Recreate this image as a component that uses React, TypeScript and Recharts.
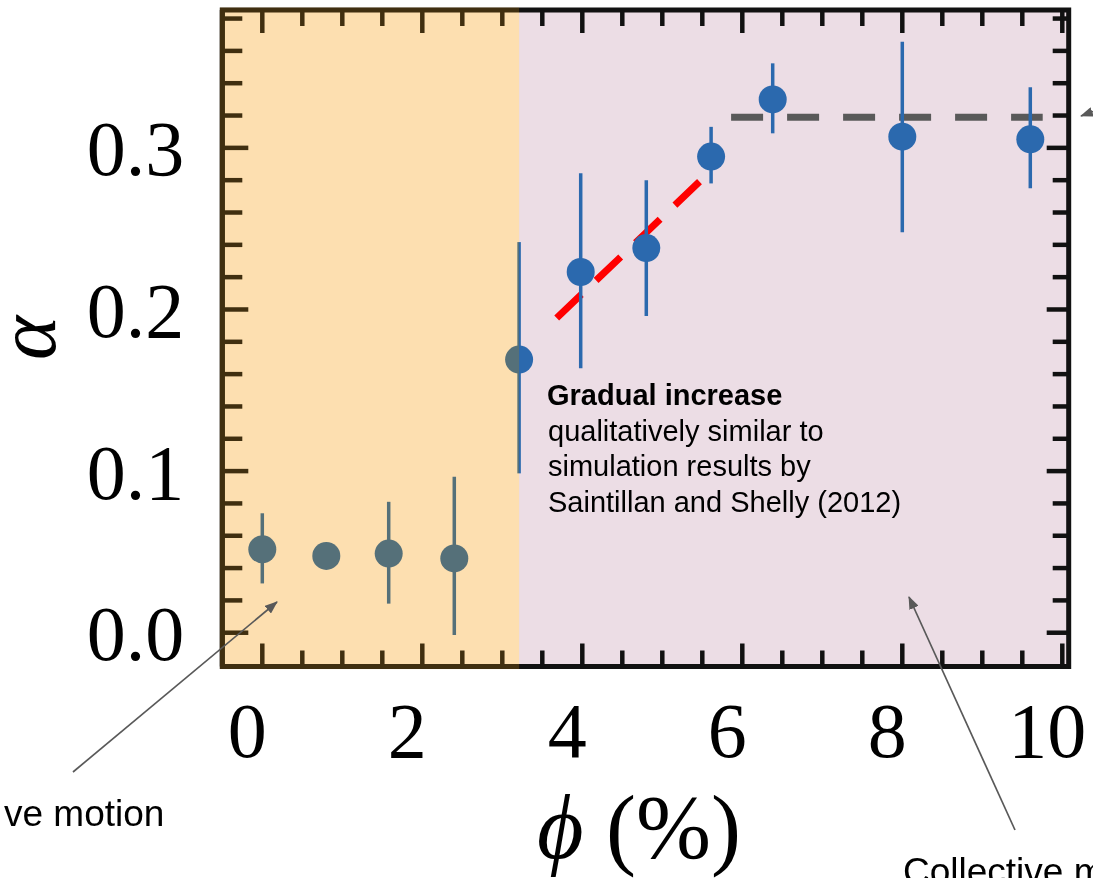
import React from 'react';
import {
  ComposedChart,
  Scatter,
  XAxis,
  YAxis,
  ErrorBar,
  ReferenceArea,
  ReferenceLine,
} from 'recharts';

// ---------- data ----------
const phiPercent = [0, 0.8, 1.58, 2.4, 3.21, 3.98, 4.8, 5.61, 6.38, 8.0, 9.6];
const alphaValue = [0.0516, 0.0475, 0.049, 0.046, 0.169, 0.2232, 0.238, 0.2946, 0.33, 0.3069, 0.3053];
const alphaErrLow = [0.0211, 0, 0.031, 0.0474, 0.0704, 0.0596, 0.042, 0.0166, 0.021, 0.0591, 0.0303];
const alphaErrHigh = [0.0223, 0, 0.032, 0.0505, 0.0727, 0.0611, 0.042, 0.0184, 0.0223, 0.0588, 0.0322];

const riseFit = [
  { x: 3.68, y: 0.1947 },
  { x: 5.49, y: 0.2803 },
];
const plateauFit = [
  { x: 5.86, y: 0.319 },
  { x: 9.755, y: 0.319 },
];

const orderedRange = [-0.53, 3.21];
const collectiveRange = [3.21, 10.08];

const xMajorTicks = [0, 2, 4, 6, 8, 10];
const xMinorTicks = [0.5, 1, 1.5, 2.5, 3, 3.5, 4.5, 5, 5.5, 6.5, 7, 7.5, 8.5, 9, 9.5];
const yMajorTicks = [0, 0.1, 0.2, 0.3];
const yMinorTicks = [0.02, 0.04, 0.06, 0.08, 0.12, 0.14, 0.16, 0.18, 0.22, 0.24, 0.26, 0.28, 0.32, 0.34, 0.36, 0.38];

const annotationLines = [
  'qualitatively similar to',
  'simulation results by',
  'Saintillan and Shelly (2012)',
];

// ---------- layout / style ----------
const W = 1093;
const H = 878;
const MARGIN = { top: 10, right: 24.3, bottom: 61.5, left: 72.3 };
const X_AXIS_H = 150;
const Y_AXIS_W = 150;
const PLOT_W = W - MARGIN.left - Y_AXIS_W - MARGIN.right;
const PLOT_H = H - MARGIN.top - MARGIN.bottom - X_AXIS_H;
const X_DOMAIN = [-0.5, 10.08];
const Y_DOMAIN = [-0.0209, 0.3853];
const FRAME = '#111';
const BLUE = '#2b69ae';
const SERIF = "'Liberation Serif', 'Times New Roman', serif";
const SANS = "'Liberation Sans', Arial, sans-serif";
const TICK_W = 4.5;

const xTicks = [...xMajorTicks, ...xMinorTicks].sort((a, b) => a - b);
const yTicks = [...yMajorTicks, ...yMinorTicks].sort((a, b) => a - b);
const isMajor = (arr: number[], v: number) => arr.some((m) => Math.abs(m - v) < 1e-9);

// bottom axis tick: inward tick at bottom, mirrored inward tick at top, label
const BottomTick = (p: any) => {
  const v = p.payload.value;
  const major = isMajor(xMajorTicks, v);
  const len = major ? 23 : 16;
  const top = p.y - PLOT_H;
  return (
    <g>
      <line x1={p.x} x2={p.x} y1={p.y} y2={p.y - len} stroke={FRAME} strokeWidth={TICK_W} />
      <line x1={p.x} x2={p.x} y1={top} y2={top + len} stroke={FRAME} strokeWidth={TICK_W} />
      {major && (
        <text x={p.x - 15} y={p.y + 90.5} textAnchor="middle" fontFamily={SERIF} fontSize={78} fill="#000">
          {String(v)}
        </text>
      )}
    </g>
  );
};

// left axis tick: inward tick at left, mirrored inward tick at right, label
const LeftTick = (p: any) => {
  const v = p.payload.value;
  const major = isMajor(yMajorTicks, v);
  const right = p.x + PLOT_W;
  return (
    <g>
      <line x1={p.x} x2={p.x + (major ? 26 : 20)} y1={p.y} y2={p.y} stroke={FRAME} strokeWidth={TICK_W} />
      <line x1={right} x2={right - (major ? 22 : 16)} y1={p.y} y2={p.y} stroke={FRAME} strokeWidth={TICK_W} />
      {major && (
        <text x={p.x - 38} y={p.y + 27.5} textAnchor="end" fontFamily={SERIF} fontSize={78} fill="#000">
          {v.toFixed(1)}
        </text>
      )}
    </g>
  );
};

const Marker = (p: any) => <circle cx={p.cx} cy={p.cy} r={14} fill={BLUE} />;

// translucent orange highlight laid over the "ordered" region (tints marks beneath it)
const OrangeVeil = (p: any) => (
  <g>
    <rect x={p.x} y={p.y} width={p.width} height={p.height} fill="#fdebd7" style={{ mixBlendMode: 'multiply' }} />
    <rect x={p.x} y={p.y} width={p.width} height={p.height} fill="#fdaf14" fillOpacity={0.2} />
  </g>
);

export default function App() {
  const rows = phiPercent.map((x, i) => ({
    x,
    y: alphaValue[i],
    err: [alphaErrLow[i], alphaErrHigh[i]],
  }));
  const axisLine = { stroke: FRAME, strokeWidth: 5 };

  return (
    <div style={{ position: 'absolute', left: 0, top: 0, width: W, height: H, background: '#fff', overflow: 'hidden' }}>
      <ComposedChart width={W} height={H} margin={MARGIN}>
        <ReferenceArea
          xAxisId="b"
          yAxisId="l"
          x1={collectiveRange[0]}
          x2={collectiveRange[1]}
          fill="#ecdde5"
          fillOpacity={1}
          stroke="none"
          ifOverflow="hidden"
        />
        <XAxis
          xAxisId="b"
          dataKey="x"
          type="number"
          orientation="bottom"
          domain={X_DOMAIN}
          allowDataOverflow
          ticks={xTicks}
          interval={0}
          height={X_AXIS_H}
          tickSize={0}
          tickMargin={0}
          tickLine={false}
          axisLine={axisLine}
          tick={BottomTick}
        />
        <YAxis
          yAxisId="l"
          dataKey="y"
          type="number"
          orientation="left"
          domain={Y_DOMAIN}
          allowDataOverflow
          ticks={yTicks}
          interval={0}
          width={Y_AXIS_W}
          tickSize={0}
          tickMargin={0}
          tickLine={false}
          axisLine={axisLine}
          tick={LeftTick}
        />
        <ReferenceArea
          xAxisId="b"
          yAxisId="l"
          x1={X_DOMAIN[0]}
          x2={X_DOMAIN[1]}
          y1={Y_DOMAIN[0]}
          y2={Y_DOMAIN[1]}
          fill="none"
          fillOpacity={0}
          stroke={FRAME}
          strokeWidth={5}
          ifOverflow="visible"
        />
        <ReferenceLine
          xAxisId="b"
          yAxisId="l"
          segment={riseFit}
          stroke="#ff0000"
          strokeWidth={7}
          strokeDasharray="34 20.5"
        />
        <ReferenceLine
          xAxisId="b"
          yAxisId="l"
          segment={plateauFit}
          stroke="#595959"
          strokeWidth={7}
          strokeDasharray="32 24"
        />
        <Scatter data={rows} xAxisId="b" yAxisId="l" dataKey="y" shape={Marker} isAnimationActive={false}>
          <ErrorBar dataKey="err" direction="y" width={0} stroke={BLUE} strokeWidth={3.5} isAnimationActive={false} />
        </Scatter>
        <ReferenceArea
          xAxisId="b"
          yAxisId="l"
          x1={orderedRange[0]}
          x2={orderedRange[1]}
          y1={-0.0225}
          y2={0.3868}
          stroke="none"
          ifOverflow="visible"
          shape={OrangeVeil}
          {...({ zIndex: 3000 } as any)}
        />
      </ComposedChart>

      <svg
        width={W}
        height={H}
        style={{ position: 'absolute', left: 0, top: 0, pointerEvents: 'none' }}
      >
        <defs>
          <marker id="ah" markerWidth="13" markerHeight="10" refX="12" refY="5" orient="auto" markerUnits="userSpaceOnUse">
            <path d="M0,0 L13,5 L0,10 z" fill="#595959" />
          </marker>
        </defs>
        {/* axis titles */}
        <text
          transform="translate(36,338) rotate(-90)"
          y={19}
          textAnchor="middle"
          fontFamily={SERIF}
          fontStyle="italic"
          fontSize={84}
          fill="#000"
        >
          α
        </text>
        <text x={639} y={858} textAnchor="middle" fontFamily={SERIF} fontSize={90} fill="#000">
          <tspan fontStyle="italic">ϕ</tspan> (%)
        </text>

        {/* annotation text */}
        <text x={547} y={405} fontFamily={SANS} fontSize={29} fontWeight="bold" fill="#000">
          Gradual increase
        </text>
        {annotationLines.map((t, i) => (
          <text key={t} x={548} y={440.5 + 35.5 * i} fontFamily={SANS} fontSize={29} fill="#000">
            {t}
          </text>
        ))}
        <text x={4} y={826} fontFamily={SANS} fontSize={37} fill="#000">
          ve motion
        </text>
        <text x={903} y={884} fontFamily={SANS} fontSize={37} fill="#000">
          Collective motion
        </text>

        {/* arrows */}
        <line x1={73} y1={772} x2={277} y2={602} stroke="#595959" strokeWidth={1.7} markerEnd="url(#ah)" />
        <line x1={1015} y1={830} x2={909} y2={597} stroke="#595959" strokeWidth={1.7} markerEnd="url(#ah)" />
        <line x1={1125} y1={100} x2={1081} y2={116} stroke="#595959" strokeWidth={1.7} markerEnd="url(#ah)" />
      </svg>
    </div>
  );
}
